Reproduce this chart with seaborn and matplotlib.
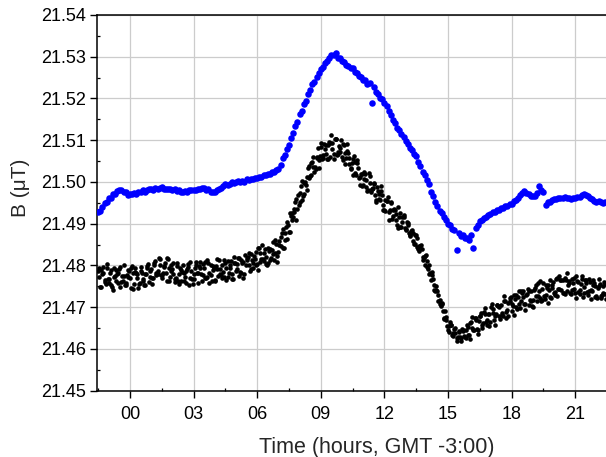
import numpy as np
import pandas as pd
import matplotlib
matplotlib.use("Agg")
import matplotlib.pyplot as plt
from matplotlib.ticker import MultipleLocator, FuncFormatter
import seaborn as sns

# sampling grids (hours, GMT -3:00): readings every 0.1 h, extra black sets interleaved
time_h = np.linspace(-1.5, 22.4, 240)
time_h_b = np.linspace(-1.45, 22.45, 240)
time_h_c = np.linspace(-1.475, 22.425, 240)

# lower (black) station, B in microtesla
black_uT = [
    21.4787, 21.4749, 21.4779, 21.4765, 21.4793, 21.4757, 21.4790, 21.4741, 21.4775, 21.4779,
    21.4792, 21.4761, 21.4775, 21.4753, 21.4788, 21.4769, 21.4799, 21.4756, 21.4781, 21.4745,
    21.4787, 21.4763, 21.4779, 21.4799, 21.4760, 21.4791, 21.4769, 21.4811, 21.4779, 21.4802,
    21.4770, 21.4799, 21.4783, 21.4815, 21.4772, 21.4792, 21.4760, 21.4799, 21.4779, 21.4762,
    21.4801, 21.4772, 21.4792, 21.4754, 21.4786, 21.4768, 21.4801, 21.4781, 21.4809, 21.4763,
    21.4794, 21.4769, 21.4805, 21.4778, 21.4799, 21.4763, 21.4791, 21.4813, 21.4777, 21.4785,
    21.4807, 21.4772, 21.4800, 21.4767, 21.4806, 21.4786, 21.4819, 21.4784, 21.4807, 21.4780,
    21.4819, 21.4801, 21.4828, 21.4793, 21.4816, 21.4803, 21.4841, 21.4815, 21.4831, 21.4803,
    21.4843, 21.4814, 21.4838, 21.4813, 21.4852, 21.4832, 21.4867, 21.4843, 21.4878, 21.4904,
    21.4880, 21.4918, 21.4915, 21.4952, 21.4935, 21.4974, 21.4956, 21.4997, 21.4992, 21.5033,
    21.5014, 21.5049, 21.5024, 21.5059, 21.5053, 21.5083, 21.5057, 21.5079, 21.5055, 21.5096,
    21.5113, 21.5067, 21.5103, 21.5071, 21.5081, 21.5061, 21.5088, 21.5057, 21.5069, 21.5033,
    21.5054, 21.5022, 21.5046, 21.5010, 21.5019, 21.4993, 21.5020, 21.4978, 21.4998, 21.4983,
    21.4997, 21.4956, 21.4978, 21.4957, 21.4968, 21.4934, 21.4955, 21.4928, 21.4950, 21.4919,
    21.4933, 21.4898, 21.4916, 21.4893, 21.4916, 21.4885, 21.4902, 21.4873, 21.4885, 21.4852,
    21.4872, 21.4839, 21.4847, 21.4813, 21.4822, 21.4797, 21.4802, 21.4765, 21.4767, 21.4739,
    21.4739, 21.4708, 21.4710, 21.4673, 21.4676, 21.4645, 21.4664, 21.4633, 21.4648, 21.4619,
    21.4642, 21.4619, 21.4645, 21.4629, 21.4657, 21.4633, 21.4665, 21.4645, 21.4670, 21.4646,
    21.4679, 21.4657, 21.4689, 21.4665, 21.4684, 21.4665, 21.4695, 21.4680, 21.4706, 21.4679,
    21.4705, 21.4679, 21.4714, 21.4694, 21.4723, 21.4691, 21.4730, 21.4701, 21.4725, 21.4698,
    21.4734, 21.4708, 21.4730, 21.4705, 21.4740, 21.4718, 21.4747, 21.4716, 21.4738, 21.4714,
    21.4757, 21.4729, 21.4753, 21.4725, 21.4752, 21.4733, 21.4767, 21.4743, 21.4766, 21.4735,
    21.4771, 21.4740, 21.4763, 21.4732, 21.4759, 21.4734, 21.4762, 21.4742, 21.4767, 21.4735,
    21.4759, 21.4729, 21.4760, 21.4738, 21.4759, 21.4728, 21.4750, 21.4722, 21.4750, 21.4731,
]

# lower (black) station, interleaved readings (+0.05 h)
black_uT_b = [
    21.4772, 21.4788, 21.4796, 21.4756, 21.4767, 21.4781, 21.4748, 21.4773, 21.4788, 21.4759,
    21.4796, 21.4763, 21.4753, 21.4778, 21.4786, 21.4747, 21.4781, 21.4793, 21.4771, 21.4759,
    21.4782, 21.4754, 21.4780, 21.4804, 21.4773, 21.4769, 21.4801, 21.4783, 21.4817, 21.4777,
    21.4783, 21.4807, 21.4763, 21.4795, 21.4787, 21.4806, 21.4771, 21.4763, 21.4793, 21.4785,
    21.4762, 21.4786, 21.4804, 21.4771, 21.4755, 21.4795, 21.4783, 21.4799, 21.4779, 21.4804,
    21.4770, 21.4812, 21.4783, 21.4763, 21.4794, 21.4799, 21.4775, 21.4792, 21.4769, 21.4814,
    21.4793, 21.4782, 21.4810, 21.4767, 21.4806, 21.4791, 21.4819, 21.4783, 21.4808, 21.4802,
    21.4821, 21.4787, 21.4813, 21.4822, 21.4800, 21.4843, 21.4809, 21.4816, 21.4840, 21.4800,
    21.4835, 21.4817, 21.4857, 21.4830, 21.4822, 21.4848, 21.4878, 21.4843, 21.4892, 21.4896,
    21.4881, 21.4925, 21.4927, 21.4958, 21.4945, 21.4990, 21.4967, 21.4999, 21.4981, 21.5038,
    21.5046, 21.5036, 21.5030, 21.5081, 21.5063, 21.5056, 21.5090, 21.5068, 21.5088, 21.5061,
    21.5080, 21.5102, 21.5065, 21.5085, 21.5101, 21.5053, 21.5069, 21.5074, 21.5044, 21.5046,
    21.5062, 21.5017, 21.5033, 21.4993, 21.5020, 21.5008, 21.4989, 21.5021, 21.4976, 21.4985,
    21.4968, 21.4988, 21.4960, 21.4979, 21.4933, 21.4956, 21.4965, 21.4932, 21.4912, 21.4935,
    21.4924, 21.4890, 21.4925, 21.4905, 21.4890, 21.4903, 21.4878, 21.4883, 21.4858, 21.4873,
    21.4845, 21.4846, 21.4840, 21.4818, 21.4825, 21.4792, 21.4783, 21.4776, 21.4742, 21.4742,
    21.4730, 21.4703, 21.4691, 21.4690, 21.4655, 21.4656, 21.4658, 21.4631, 21.4639, 21.4629,
    21.4629, 21.4648, 21.4631, 21.4646, 21.4634, 21.4662, 21.4649, 21.4673, 21.4648, 21.4666,
    21.4686, 21.4663, 21.4683, 21.4658, 21.4683, 21.4708, 21.4670, 21.4683, 21.4703, 21.4672,
    21.4687, 21.4714, 21.4675, 21.4709, 21.4725, 21.4703, 21.4720, 21.4695, 21.4738, 21.4716,
    21.4724, 21.4707, 21.4743, 21.4717, 21.4704, 21.4742, 21.4727, 21.4759, 21.4721, 21.4744,
    21.4720, 21.4746, 21.4742, 21.4721, 21.4761, 21.4736, 21.4770, 21.4744, 21.4766, 21.4735,
    21.4766, 21.4752, 21.4733, 21.4767, 21.4744, 21.4774, 21.4737, 21.4755, 21.4725, 21.4766,
    21.4736, 21.4768, 21.4741, 21.4754, 21.4725, 21.4745, 21.4756, 21.4730, 21.4760, 21.4720,
]

# lower (black) station, interleaved readings (+0.025 h)
black_uT_c = [
    21.4793, 21.4748, 21.4781, 21.4761, 21.4804, 21.4768, 21.4753, 21.4795, 21.4762, 21.4783,
    21.4748, 21.4774, 21.4800, 21.4758, 21.4773, 21.4795, 21.4744, 21.4785, 21.4779, 21.4755,
    21.4797, 21.4768, 21.4754, 21.4794, 21.4786, 21.4756, 21.4805, 21.4776, 21.4786, 21.4816,
    21.4777, 21.4797, 21.4818, 21.4763, 21.4802, 21.4779, 21.4767, 21.4805, 21.4755, 21.4790,
    21.4782, 21.4759, 21.4796, 21.4809, 21.4768, 21.4779, 21.4809, 21.4758, 21.4794, 21.4776,
    21.4808, 21.4773, 21.4757, 21.4802, 21.4790, 21.4765, 21.4815, 21.4780, 21.4800, 21.4773,
    21.4765, 21.4810, 21.4793, 21.4779, 21.4821, 21.4803, 21.4775, 21.4812, 21.4771, 21.4824,
    21.4812, 21.4831, 21.4792, 21.4806, 21.4833, 21.4789, 21.4831, 21.4849, 21.4811, 21.4820,
    21.4805, 21.4839, 21.4827, 21.4860, 21.4808, 21.4859, 21.4846, 21.4888, 21.4861, 21.4863,
    21.4926, 21.4908, 21.4936, 21.4910, 21.4968, 21.4951, 21.5003, 21.4971, 21.5011, 21.5010,
    21.5016, 21.5061, 21.5037, 21.5057, 21.5034, 21.5093, 21.5065, 21.5089, 21.5055, 21.5094,
    21.5094, 21.5055, 21.5102, 21.5067, 21.5071, 21.5091, 21.5044, 21.5091, 21.5058, 21.5032,
    21.5016, 21.5048, 21.5053, 21.5011, 21.4990, 21.5023, 21.5005, 21.4980, 21.5014, 21.4982,
    21.4995, 21.4951, 21.4971, 21.4990, 21.4945, 21.4930, 21.4954, 21.4910, 21.4951, 21.4932,
    21.4910, 21.4939, 21.4893, 21.4916, 21.4921, 21.4887, 21.4898, 21.4870, 21.4878, 21.4851,
    21.4865, 21.4835, 21.4848, 21.4820, 21.4800, 21.4811, 21.4779, 21.4785, 21.4753, 21.4750,
    21.4714, 21.4717, 21.4707, 21.4672, 21.4670, 21.4641, 21.4657, 21.4639, 21.4651, 21.4627,
    21.4641, 21.4626, 21.4642, 21.4627, 21.4652, 21.4625, 21.4676, 21.4645, 21.4675, 21.4635,
    21.4678, 21.4650, 21.4699, 21.4669, 21.4654, 21.4701, 21.4687, 21.4658, 21.4705, 21.4701,
    21.4681, 21.4726, 21.4689, 21.4679, 21.4716, 21.4707, 21.4682, 21.4729, 21.4708, 21.4740,
    21.4738, 21.4693, 21.4731, 21.4740, 21.4714, 21.4700, 21.4752, 21.4727, 21.4762, 21.4717,
    21.4727, 21.4754, 21.4710, 21.4765, 21.4746, 21.4730, 21.4726, 21.4775, 21.4742, 21.4764,
    21.4732, 21.4782, 21.4758, 21.4741, 21.4770, 21.4723, 21.4760, 21.4731, 21.4774, 21.4749,
    21.4764, 21.4738, 21.4720, 21.4766, 21.4750, 21.4722, 21.4768, 21.4726, 21.4734, 21.4755,
]

# upper (blue) station, B in microtesla
blue_uT = [
    21.4928, 21.4930, 21.4941, 21.4949, 21.4951, 21.4961, 21.4962, 21.4971, 21.4972, 21.4979,
    21.4980, 21.4981, 21.4975, 21.4975, 21.4969, 21.4972, 21.4970, 21.4974, 21.4972, 21.4977,
    21.4976, 21.4980, 21.4977, 21.4981, 21.4982, 21.4982, 21.4980, 21.4985, 21.4982, 21.4985,
    21.4987, 21.4983, 21.4982, 21.4984, 21.4982, 21.4981, 21.4983, 21.4978, 21.4980, 21.4977,
    21.4975, 21.4979, 21.4977, 21.4981, 21.4980, 21.4981, 21.4980, 21.4984, 21.4983, 21.4985,
    21.4985, 21.4981, 21.4982, 21.4977, 21.4977, 21.4975, 21.4981, 21.4983, 21.4985, 21.4991,
    21.4994, 21.4993, 21.4996, 21.4999, 21.4997, 21.5001, 21.5003, 21.5001, 21.5003, 21.5001,
    21.5006, 21.5004, 21.5007, 21.5006, 21.5010, 21.5009, 21.5013, 21.5012, 21.5016, 21.5017,
    21.5018, 21.5019, 21.5024, 21.5024, 21.5028, 21.5031, 21.5040, 21.5057, 21.5065, 21.5080,
    21.5088, 21.5106, 21.5117, 21.5135, 21.5144, 21.5162, 21.5171, 21.5187, 21.5195, 21.5211,
    21.5221, 21.5234, 21.5240, 21.5252, 21.5262, 21.5271, 21.5276, 21.5285, 21.5289, 21.5298,
    21.5304, 21.5305, 21.5308, 21.5298, 21.5296, 21.5289, 21.5288, 21.5280, 21.5279, 21.5273,
    21.5272, 21.5264, 21.5261, 21.5253, 21.5251, 21.5244, 21.5244, 21.5235, 21.5238, 21.5190,
    21.5227, 21.5216, 21.5211, 21.5202, 21.5198, 21.5189, 21.5182, 21.5169, 21.5161, 21.5148,
    21.5141, 21.5130, 21.5125, 21.5114, 21.5107, 21.5097, 21.5091, 21.5081, 21.5077, 21.5067,
    21.5062, 21.5048, 21.5039, 21.5025, 21.5017, 21.5004, 21.4994, 21.4977, 21.4967, 21.4952,
    21.4942, 21.4931, 21.4925, 21.4916, 21.4909, 21.4899, 21.4897, 21.4888, 21.4886, 21.4836,
    21.4877, 21.4871, 21.4873, 21.4865, 21.4866, 21.4860, 21.4872, 21.4842, 21.4889, 21.4898,
    21.4907, 21.4908, 21.4914, 21.4915, 21.4922, 21.4924, 21.4929, 21.4929, 21.4933, 21.4933,
    21.4938, 21.4938, 21.4943, 21.4943, 21.4947, 21.4947, 21.4954, 21.4956, 21.4962, 21.4969,
    21.4973, 21.4979, 21.4974, 21.4971, 21.4966, 21.4966, 21.4967, 21.4973, 21.4990, 21.4981,
    21.4976, 21.4946, 21.4951, 21.4952, 21.4957, 21.4959, 21.4958, 21.4961, 21.4962, 21.4961,
    21.4963, 21.4961, 21.4962, 21.4959, 21.4961, 21.4961, 21.4963, 21.4965, 21.4968, 21.4971,
    21.4969, 21.4966, 21.4962, 21.4958, 21.4955, 21.4952, 21.4954, 21.4951, 21.4950, 21.4952,
]

x_label = "Time (hours, GMT -3:00)"
y_label = "B (\u03bcT)"
x_ticks = [0, 3, 6, 9, 12, 15, 18, 21]
y_ticks = [21.45, 21.46, 21.47, 21.48, 21.49, 21.50, 21.51, 21.52, 21.53, 21.54]

df_blue = pd.DataFrame({"time": time_h, "B": blue_uT})
df_black = pd.concat([
    pd.DataFrame({"time": time_h, "B": black_uT}),
    pd.DataFrame({"time": time_h_b, "B": black_uT_b}),
    pd.DataFrame({"time": time_h_c, "B": black_uT_c}),
], ignore_index=True).sort_values("time")

sns.set_style("ticks")
plt.rcParams["font.family"] = ["Liberation Sans", "DejaVu Sans"]

fig = plt.figure(figsize=(6.06, 4.57), dpi=100)
ax = fig.add_axes([0.1606, 0.1451, 0.922, 0.8221])

sns.scatterplot(data=df_blue, x="time", y="B", color="#0000ff", s=22, linewidth=0, ax=ax, zorder=3)
sns.scatterplot(data=df_black, x="time", y="B", color="#000000", s=11, linewidth=0, ax=ax, zorder=3)

ax.set_xlim(-1.54, 24.81)
ax.set_ylim(21.45, 21.54)

ax.set_xticks(x_ticks)
ax.xaxis.set_minor_locator(MultipleLocator(1.5))
ax.xaxis.set_major_formatter(FuncFormatter(lambda v, p: f"{int(round(v)):02d}"))
ax.set_yticks(y_ticks)
ax.yaxis.set_minor_locator(MultipleLocator(0.005))
ax.yaxis.set_major_formatter(FuncFormatter(lambda v, p: f"{v:.2f}"))

ax.grid(True, which="major", color="#cccccc", linewidth=0.9)
ax.set_axisbelow(True)

ax.tick_params(which="major", direction="out", length=4.8, width=1.0, labelsize=13, pad=3.5, colors="black")
ax.tick_params(axis="x", which="major", pad=6)
ax.tick_params(which="minor", direction="in", length=2.2, width=0.9, colors="black")

for side in ["left", "bottom", "top", "right"]:
    ax.spines[side].set_visible(True)
    ax.spines[side].set_color("black")
    ax.spines[side].set_linewidth(1.1)

ax.set_xlabel(x_label, fontsize=15.5)
ax.set_ylabel(y_label, fontsize=15)
ax.xaxis.set_label_coords(0.5, -0.122)
ax.yaxis.set_label_coords(-0.1205, 0.54)

fig.savefig("out.png", dpi=100)
